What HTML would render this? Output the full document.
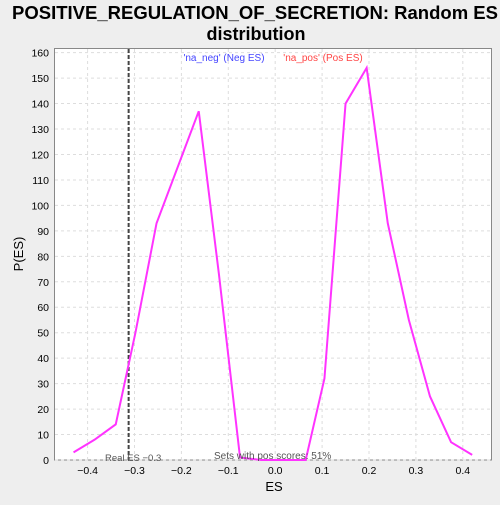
<!DOCTYPE html>
<html><head><meta charset="utf-8"><style>
body{margin:0;background:#eeeeee;width:500px;height:500px;overflow:hidden;font-family:"Liberation Sans","DejaVu Sans",sans-serif}
</style></head><body>
<svg id="c" width="500" height="500" xmlns="http://www.w3.org/2000/svg">
<text x="12" y="19" textLength="486" lengthAdjust="spacingAndGlyphs" font-size="18" font-weight="bold" fill="#000">POSITIVE_REGULATION_OF_SECRETION: Random ES</text>
<text x="256" y="40" text-anchor="middle" font-size="18" font-weight="bold" fill="#000">distribution</text>
<rect x="54.5" y="48.5" width="437" height="411.5" fill="#fff" stroke="#888"/>
<g id="grid"></g><g id="ticks"></g>
<text x="274" y="491" text-anchor="middle" font-size="13">ES</text>
<text x="23" y="254" text-anchor="middle" font-size="13" transform="rotate(-90 23 254)">P(ES)</text>
<text x="224" y="61" text-anchor="middle" font-size="10" fill="#4444ff">'na_neg' (Neg ES)</text>
<text x="323" y="61" text-anchor="middle" font-size="10" fill="#ff4444">'na_pos' (Pos ES)</text>
<g id="series"></g>
<text x="105" y="461" font-size="9.5" fill="#555">Real ES −0.3</text>
<text x="214" y="459" font-size="10" fill="#555">Sets with pos scores: 51%</text>
</svg>
<script>
const esValues=[-0.43,-0.385,-0.34,-0.298,-0.253,-0.163,-0.12,-0.075,-0.03,0.02,0.065,0.105,0.15,0.195,0.24,0.285,0.33,0.375,0.42];
const pValues=[3,8,14,50,93,137,73,1,0,0,0,32,140,154,93,55,25,7,2];
const xTicks=[-0.4,-0.3,-0.2,-0.1,0.0,0.1,0.2,0.3,0.4];
const yTicks=[0,10,20,30,40,50,60,70,80,90,100,110,120,130,140,150,160];
const realES=-0.3125;
const X=v=>275.2+v*469;
const Y=v=>460-v*2.546;
const NS="http://www.w3.org/2000/svg";
function mk(t,a,p){const e=document.createElementNS(NS,t);for(const k in a)e.setAttribute(k,a[k]);p.appendChild(e);return e;}
const grid=document.getElementById('grid'),ticks=document.getElementById('ticks'),ser=document.getElementById('series');
xTicks.forEach(v=>{
 const g=mk('line',{x1:X(v),x2:X(v),y1:49,y2:460,stroke:'#ddd','stroke-dasharray':'3,3'},grid);
 
 
 const t=mk('text',{x:X(v),y:474,'text-anchor':'middle','font-size':'10.5'},ticks);
 t.textContent=(v<0?'−':'')+Math.abs(v).toFixed(1);
 
 
});
yTicks.forEach(v=>{
 const g=mk('line',{x1:55,x2:491,y1:Y(v),y2:Y(v),stroke:'#ddd','stroke-dasharray':'3,3'},grid);
 
 
 const t=mk('text',{x:49,y:Y(v)+4,'text-anchor':'end','font-size':'10.5'},ticks);
 t.textContent=v;
 
 
});
const rl=mk('line',{x1:X(realES),x2:X(realES),y1:49,y2:460,stroke:'#444','stroke-width':2,'stroke-dasharray':'4,2'},ser);


const pl=mk('polyline',{points:esValues.map((v,i)=>X(v)+','+Y(pValues[i])).join(' '),fill:'none',stroke:'#ff33ff','stroke-width':2},ser);


</script>
</body></html>
